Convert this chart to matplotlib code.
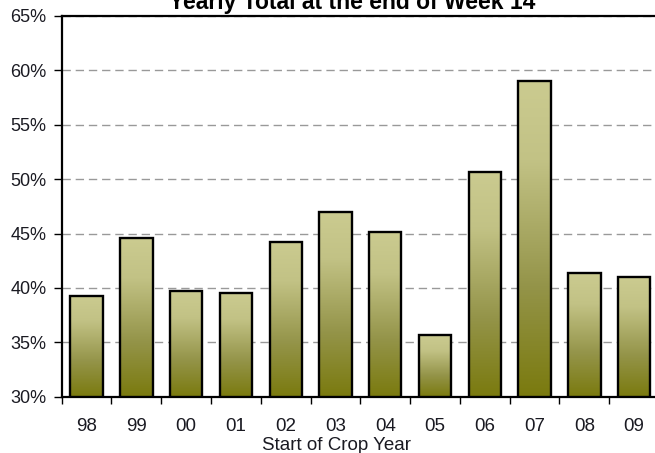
import numpy as np
import matplotlib
matplotlib.use("Agg")
import matplotlib.pyplot as plt
from matplotlib.colors import LinearSegmentedColormap
from matplotlib.ticker import FixedLocator

categories = ["98", "99", "00", "01", "02", "03", "04", "05", "06", "07", "08", "09"]
values = [39.3, 44.6, 39.7, 39.5, 44.2, 47.0, 45.1, 35.7, 50.7, 59.0, 41.4, 41.0]
y_ticks = [30, 35, 40, 45, 50, 55, 60, 65]
y_tick_labels = [f"{v}%" for v in y_ticks]
title = "Yearly Total at the end of Week 14"
xlabel = "Start of Crop Year"

plt.rcParams['font.family'] = ['Liberation Sans', 'DejaVu Sans']
text_color = '#1a1a22'

W, H = 655, 453
fig = plt.figure(figsize=(W / 100, H / 100), dpi=100)
ax = fig.add_axes([61.7 / W, 56.3 / H, (659 - 61.7) / W, (396.7 - 16.0) / H])

cmap = LinearSegmentedColormap.from_list(
    "olive", [(0.0, '#7a7a0e'), (0.35, '#949449'), (0.75, '#c2c285'), (1.0, '#cbcb90')])
grad = np.linspace(0, 1, 256).reshape(-1, 1)

x = np.arange(len(categories))
bw = 0.65
bars = ax.bar(x, np.array(values) - 30, bottom=30, width=bw, facecolor='none',
              edgecolor='black', linewidth=1.7, zorder=4)
for xi, v in zip(x, values):
    ax.imshow(grad, extent=[xi - bw / 2, xi + bw / 2, 30, v], origin='lower',
              cmap=cmap, aspect='auto', zorder=3, interpolation='bilinear')

ax.set_xlim(-0.5, len(categories) - 0.5)
ax.set_ylim(30, 65)
ax.set_aspect('auto')

ax.set_yticks(y_ticks)
ax.set_yticklabels(y_tick_labels)
ax.yaxis.grid(True, color='#999999', linestyle=(0, (6, 3.5)), linewidth=1.0, zorder=1)
ax.set_axisbelow(True)

ax.set_xticks(x)
ax.set_xticklabels(categories)
ax.xaxis.set_minor_locator(FixedLocator(np.arange(-0.5, len(categories), 1.0)))
ax.tick_params(axis='x', which='major', length=0, pad=15, labelsize=13.5, labelcolor=text_color)
ax.tick_params(axis='x', which='minor', length=5, width=1.0, direction='out')
ax.tick_params(axis='y', which='major', length=6, width=1.0, direction='out', pad=5,
               labelsize=13, labelcolor=text_color)

for s in ['left', 'top', 'bottom', 'right']:
    ax.spines[s].set_linewidth(1.6)
    ax.spines[s].set_color('black')

fig.text(336 / W, 1 - 450 / H, xlabel, ha='center', va='baseline', fontsize=13.5, color=text_color)
fig.text(352 / W, 1 - 9 / H, title, ha='center', va='baseline', fontsize=16.5,
         fontweight='bold', color='black')

fig.savefig("out.png", dpi=100)
